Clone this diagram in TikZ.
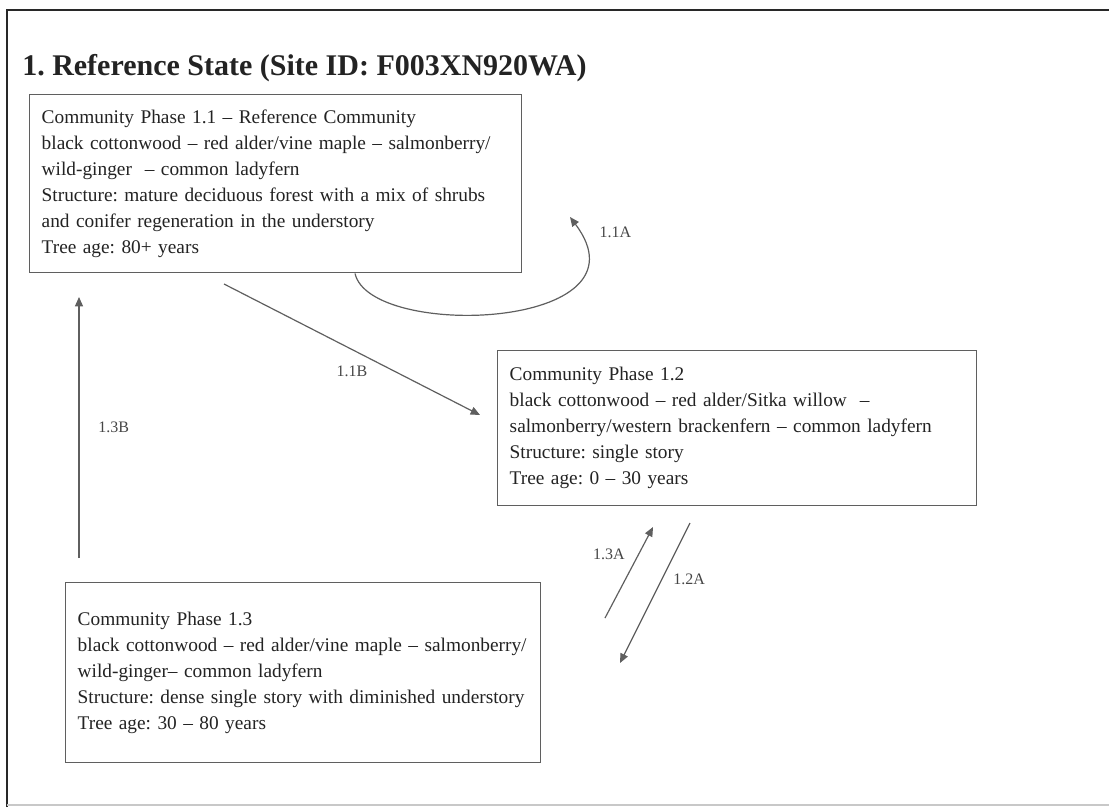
\documentclass[tikz,border=0pt]{standalone}
\usepackage{fontspec}
\setmainfont{Liberation Serif}
\usepackage{tikz}
\usetikzlibrary{arrows.meta,positioning}
\definecolor{framegrey}{RGB}{40,40,40}
\definecolor{boxgrey}{RGB}{95,95,95}
\definecolor{textgrey}{RGB}{35,35,35}
\definecolor{lblgrey}{RGB}{70,70,70}
\definecolor{edgegrey}{RGB}{200,200,200}
\frenchspacing
\tikzset{
  base/.style={font=\fontsize{14.5}{19.5}\selectfont, align=left, text=textgrey},
  phase/.style={base, rectangle, draw=boxgrey, fill=white, line width=1.1pt, inner xsep=9pt, anchor=north west},
  arr/.style={-{Triangle[length=7pt,width=6pt]}, line width=0.9pt, draw=boxgrey},
  lbl/.style={font=\fontsize{12}{14}\selectfont, text=lblgrey, inner sep=1pt},
  frame/.style={line width=2.2pt, draw=framegrey},
}
\begin{document}
\begin{tikzpicture}[x=0.75pt,y=-0.75pt]
  \useasboundingbox (0,0) rectangle (1109,807);
  % page frame
  \draw[frame] (7,807) -- (7,10) -- (1109,10);
  \draw[line width=1.5pt, draw=edgegrey] (7,805) -- (1109,805);
  \node[font=\fontsize{22.5}{27}\selectfont\bfseries, text=textgrey, anchor=base west, inner sep=0pt] (title) at (22,75) {1. Reference State (Site ID: F003XN920WA)};
  % community phases
  \node[phase, text width=351pt, minimum height=133.5pt] (p11) at (29,94) {Community Phase 1.1 -- Reference Community\\black cottonwood -- red alder/vine maple -- salmonberry/\\wild-ginger \ -- common ladyfern\\Structure: mature deciduous forest with a mix of shrubs\\and conifer regeneration in the understory\\Tree age: 80+ years};
  \node[phase, text width=341pt, minimum height=116.25pt] (p12) at (497,350) {Community Phase 1.2\\black cottonwood -- red alder/Sitka willow \ --\\salmonberry/western brackenfern -- common ladyfern\\Structure: single story\\Tree age: 0 -- 30 years};
  \node[phase, text width=338pt, minimum height=135pt] (p13) at (65,582) {Community Phase 1.3\\black cottonwood -- red alder/vine maple -- salmonberry/\\wild-ginger-- common ladyfern\\Structure: dense single story with diminished understory\\Tree age: 30 -- 80 years};
  % transitions
  \coordinate (loopend) at (570,217);
  \coordinate (b11s) at (224,284);
  \coordinate (b11e) at (480,415);
  \coordinate (b13s) at (79,558);
  \coordinate (b13e) at (79,297);
  \coordinate (a13s) at (605,618);
  \coordinate (a13e) at (653,527);
  \coordinate (a12s) at (690,523);
  \coordinate (a12e) at (620,663);
  \draw[arr] (p11.south -| 355,0) .. controls (370,340) and (655,330) .. (loopend);
  \node[lbl, anchor=west] (l11a) at (598,232) {1.1A};
  \draw[arr] (b11s) -- (b11e) node[lbl, midway, below=11pt] (l11b) {1.1B};
  \draw[arr] (b13s) -- (b13e) node[lbl, midway, right=13pt] (l13b) {1.3B};
  \draw[arr] (a13s) -- (a13e) node[lbl, pos=0.7, left=9pt] (l13a) {1.3A};
  \draw[arr] (a12s) -- (a12e) node[lbl, pos=0.4, right=7pt] (l12a) {1.2A};
\end{tikzpicture}
\end{document}
